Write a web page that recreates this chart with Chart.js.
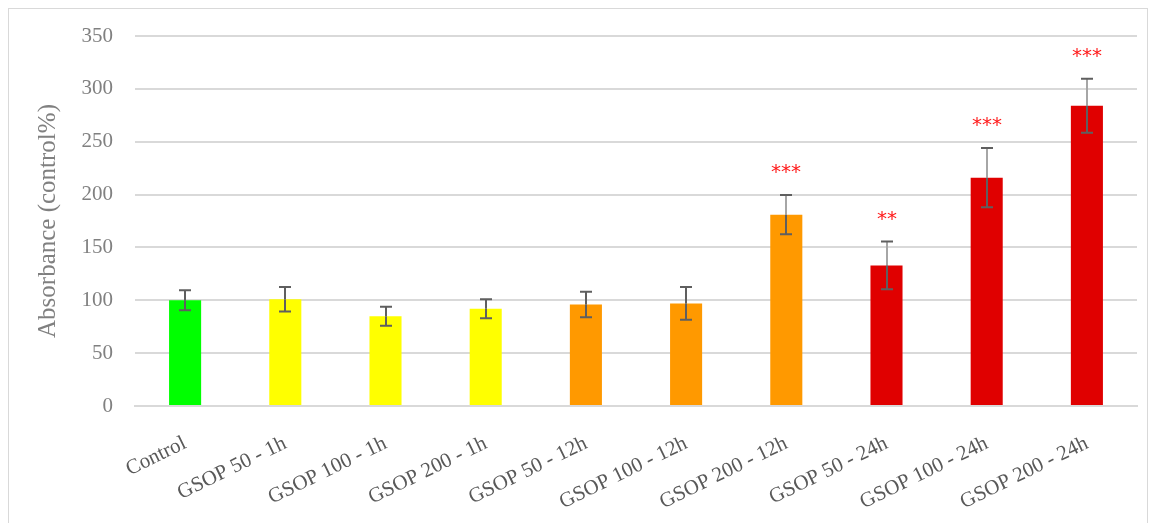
<!DOCTYPE html>
<html>
<head>
<meta charset="utf-8">
<script src="https://cdn.jsdelivr.net/npm/chart.js@4.4.1/dist/chart.umd.min.js"></script>
<style>
  html, body { margin: 0; padding: 0; background: #ffffff; }
  #wrap { position: relative; width: 1156px; height: 523px; }
  #frame { position: absolute; left: 8px; top: 8px; width: 1140px; height: 530px; border: 1.5px solid #d9d9d9; box-sizing: border-box; }
  canvas { position: absolute; left: 0; top: 0; }
</style>
</head>
<body>
<div id="wrap">
  <div id="frame"></div>
  <canvas id="c" width="1156" height="523"></canvas>
</div>
<script>
// Treatment groups along the x axis
const categories = [
  'Control', 'GSOP 50 - 1h', 'GSOP 100 - 1h', 'GSOP 200 - 1h',
  'GSOP 50 - 12h', 'GSOP 100 - 12h', 'GSOP 200 - 12h',
  'GSOP 50 - 24h', 'GSOP 100 - 24h', 'GSOP 200 - 24h'
];
// Mean absorbance, % of control
const absorbance = [100, 101, 85, 92, 96, 97, 181, 133, 216, 284];
// Error (±) for each group
const errors = [9.5, 11.5, 9, 9, 12, 15.5, 18.5, 22.5, 28, 25.5];
// Significance marks versus control
const significance = ['', '', '', '', '', '', '***', '**', '***', '***'];
// Fill colour per exposure time
const barColors = [
  '#00ff00', '#ffff00', '#ffff00', '#ffff00',
  '#ff9900', '#ff9900', '#ff9900',
  '#e00000', '#e00000', '#e00000'
];
const yTicks = [0, 50, 100, 150, 200, 250, 300, 350];

const FONT = "'Liberation Serif', 'Times New Roman', serif";

// Error bars and significance stars drawn on top of the bars
const errorBarPlugin = {
  id: 'errorBars',
  afterDatasetsDraw(chart) {
    const ctx = chart.ctx;
    const meta = chart.getDatasetMeta(0);
    const ys = chart.scales.y;
    ctx.save();
    meta.data.forEach((bar, i) => {
      const v = absorbance[i], e = errors[i];
      const x = Math.round(bar.x);
      const yTop = ys.getPixelForValue(v + e);
      const yBot = ys.getPixelForValue(v - e);
      const yBar = ys.getPixelForValue(v);
      const capHalf = 6;
      ctx.lineWidth = 2;
      // part of the whisker above the bar
      ctx.strokeStyle = significance[i] ? '#a6a6a6' : '#5f5f5f';
      ctx.beginPath();
      ctx.moveTo(x, yTop);
      ctx.lineTo(x, yBar);
      ctx.stroke();
      // part inside the bar and caps
      ctx.strokeStyle = '#5f5f5f';
      ctx.beginPath();
      ctx.moveTo(x, yBar);
      ctx.lineTo(x, yBot);
      ctx.moveTo(x - capHalf, yTop);
      ctx.lineTo(x + capHalf, yTop);
      ctx.moveTo(x - capHalf, yBot);
      ctx.lineTo(x + capHalf, yBot);
      ctx.stroke();
      if (significance[i]) {
        ctx.fillStyle = '#ff1a1a';
        ctx.font = "20px 'DejaVu Sans', sans-serif";
        ctx.textAlign = 'center';
        ctx.textBaseline = 'middle';
        ctx.fillText(significance[i], x, yTop - 22);
      }
    });
    ctx.restore();
  }
};

new Chart(document.getElementById('c'), {
  type: 'bar',
  data: {
    labels: categories,
    datasets: [{
      data: absorbance,
      backgroundColor: barColors,
      borderWidth: 0,
      barPercentage: 0.64,
      categoryPercentage: 0.5
    }]
  },
  options: {
    responsive: false,
    animation: false,
    events: [],
    layout: { padding: { left: 0, right: 19, top: 36, bottom: 0 } },
    plugins: { legend: { display: false }, tooltip: { enabled: false } },
    scales: {
      x: {
        afterFit(axis) { axis.height = 117; },
        grid: { display: false, drawTicks: false },
        border: { display: true, color: '#d9d9d9', width: 2 },
        ticks: {
          color: '#595959',
          font: { family: FONT, size: 21 },
          minRotation: 26,
          maxRotation: 26,
          padding: 25,
          autoSkip: false
        }
      },
      y: {
        min: 0,
        max: 350,
        afterBuildTicks(axis) { axis.ticks = yTicks.map(v => ({ value: v })); },
        afterFit(axis) { axis.width = 135; },
        grid: { color: '#d9d9d9', lineWidth: 2, drawTicks: false },
        border: { display: false },
        ticks: {
          color: '#808080',
          font: { family: FONT, size: 21 },
          padding: 22
        },
        title: {
          display: true,
          text: 'Absorbance (control%)',
          color: '#808080',
          font: { family: FONT, size: 25 },
          padding: { top: 33, bottom: 0 }
        }
      }
    }
  },
  plugins: [errorBarPlugin]
});
</script>
</body>
</html>
